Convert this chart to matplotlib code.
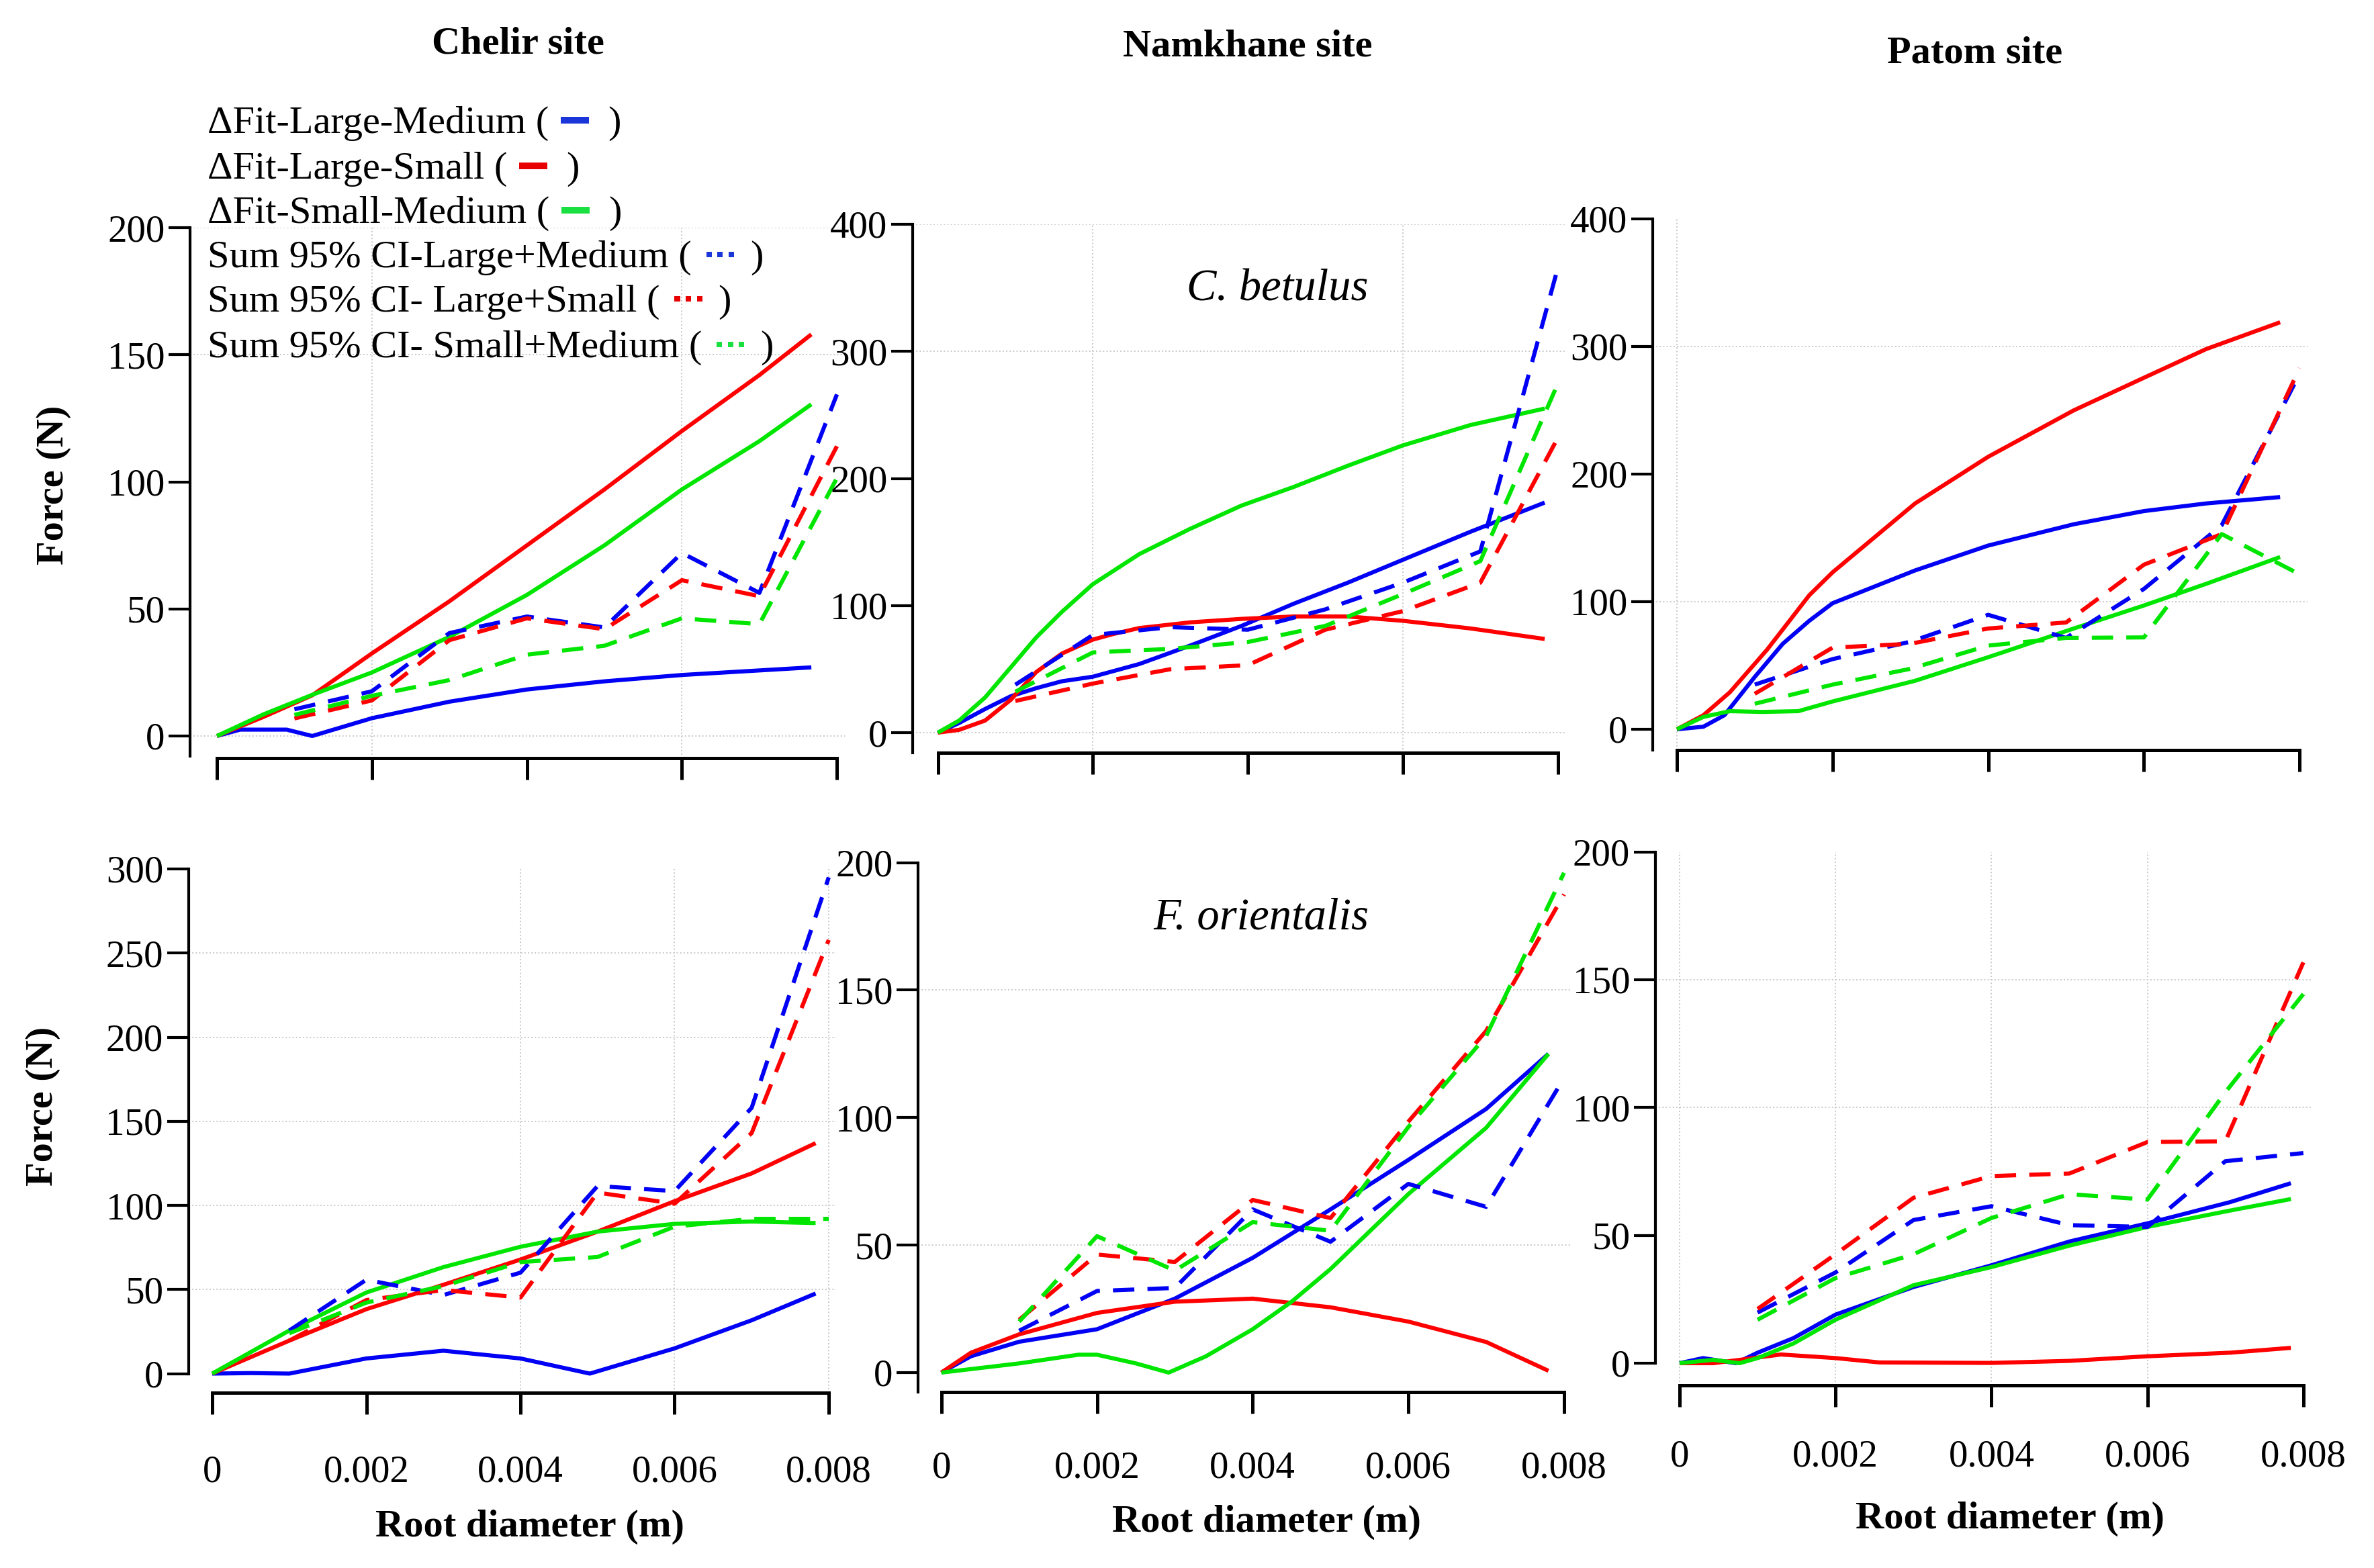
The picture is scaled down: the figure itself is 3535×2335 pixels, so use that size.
import matplotlib
matplotlib.use("Agg")
import matplotlib.pyplot as plt
from matplotlib.lines import Line2D

W, H, DPI = 3535, 2335, 100
plt.rcParams['font.family'] = ['Liberation Serif', 'DejaVu Serif']

# ------------------------------------------------------------------ DATA
ci_x = [0.001, 0.002, 0.003, 0.004, 0.005, 0.006, 0.007, 0.008]

# Panel A: Chelir site, C. betulus
a_red_x = [0, 0.0006, 0.00123, 0.002, 0.003, 0.004, 0.005, 0.006, 0.007, 0.00767]
a_red_y = [0, 7.5, 16, 32.5, 53, 75, 97, 120, 142, 158]
a_green_x = [0, 0.0006, 0.00123, 0.002, 0.003, 0.004, 0.005, 0.006, 0.007, 0.00767]
a_green_y = [0, 8.5, 16.2, 25, 39, 55.5, 75, 97, 116, 130.5]
a_blue_x = [0, 0.0003, 0.0009, 0.00123, 0.002, 0.003, 0.004, 0.005, 0.006, 0.00767]
a_blue_y = [0, 2.5, 2.5, 0, 7, 13.5, 18.3, 21.5, 24, 27]
a_ci_blue = [10.5, 17.6, 40.5, 47, 42.7, 72, 56.3, 134.4]
a_ci_red = [6.9, 14, 37.7, 46.3, 42, 61.3, 55, 114]
a_ci_green = [8.3, 15.8, 22, 32, 35.5, 46.3, 44, 101.5]

# Panel B: Namkhane site, C. betulus
b_green_x = [0, 0.000275, 0.00061, 0.00094, 0.00127, 0.0016, 0.002, 0.0026, 0.00326, 0.00392,
             0.00459, 0.00529, 0.006, 0.00687, 0.00783]
b_green_y = [0, 9.5, 27.7, 51.3, 75, 95, 116.8, 140.5, 160.5, 178.7, 193.3, 210, 226, 242, 255]
b_blue_x = [0, 0.000275, 0.00061, 0.00094, 0.00127, 0.0016, 0.002, 0.0026, 0.00326, 0.00392,
            0.00459, 0.00529, 0.006, 0.00687, 0.00783]
b_blue_y = [0, 7.6, 18.6, 28.6, 35, 40.4, 44, 54, 68.6, 84, 101.4, 118, 136, 158, 181]
b_red_x = [0, 0.000275, 0.00061, 0.00094, 0.00127, 0.0016, 0.002, 0.00227, 0.0026, 0.00326,
           0.00392, 0.00459, 0.00529, 0.006, 0.00687, 0.00783]
b_red_y = [0, 2.2, 9.5, 25.8, 47.7, 62.2, 73.2, 77.7, 82.3, 86.8, 89.5, 91.4, 91.4, 88, 82, 73.7]
b_ci_blue = [37.7, 76.8, 83, 81, 97, 118, 142.6, 365.7]
b_ci_red = [24.9, 38.6, 49.9, 53.1, 81, 95.6, 118, 232]
b_ci_green = [32.2, 63.1, 65.9, 71.3, 84, 109, 135, 274.6]

# Panel C: Patom site, C. betulus
c_red_x = [0, 0.00034, 0.00068, 0.00116, 0.0017, 0.002, 0.00306, 0.004, 0.0051, 0.006, 0.0068, 0.00775]
c_red_y = [0, 11, 29, 62.5, 105, 123, 177, 213.6, 250, 275.5, 298, 319]
c_blue_x = [0, 0.00034, 0.00061, 0.001, 0.00136, 0.0017, 0.002, 0.00306, 0.004, 0.0051, 0.006, 0.0068, 0.00775]
c_blue_y = [0, 2, 11, 41, 67, 85, 98.8, 124.5, 144, 160.7, 171, 177, 182]
c_green_x = [0, 0.00034, 0.00068, 0.0011, 0.00156, 0.002, 0.00306, 0.004, 0.0051, 0.006, 0.0068, 0.00775]
c_green_y = [0, 9.7, 14.2, 13.6, 14.2, 21.8, 38, 56.5, 79, 97, 114, 135]
c_ci_blue = [35, 55, 68.6, 89.7, 71.6, 110, 160, 278.5]
c_ci_red = [27.8, 64, 67, 79, 83.7, 129, 153, 283]
c_ci_green = [20, 35, 47.4, 65.6, 71.6, 72, 153, 121.5]

# Panel D: Chelir site, F. orientalis
d_red_x = [0, 0.001, 0.002, 0.003, 0.004, 0.005, 0.006, 0.007, 0.00783]
d_red_y = [0, 19.6, 38.3, 52.8, 67.8, 84.4, 102.5, 119, 137]
d_green_x = [0, 0.001, 0.002, 0.003, 0.004, 0.005, 0.006, 0.007, 0.00783]
d_green_y = [0, 25.6, 48.2, 63.3, 75.4, 84.4, 89, 90.4, 89.5]
d_blue_x = [0, 0.0005, 0.001, 0.002, 0.003, 0.004, 0.0049, 0.006, 0.007, 0.00783]
d_blue_y = [0, 0.3, 0, 9, 13.6, 9, 0, 15, 31.7, 47.6]
d_ci_blue = [25.6, 55.8, 46.7, 60, 111.5, 108.5, 158, 295]
d_ci_red = [19.6, 43.7, 49.7, 45.2, 107.6, 101, 143, 257.8]
d_ci_green = [24, 42.2, 52, 66.3, 69.3, 87.4, 92, 92]

# Panel E: Namkhane site, F. orientalis
e_red_x = [0, 0.00038, 0.001, 0.002, 0.003, 0.004, 0.005, 0.006, 0.007, 0.0078]
e_red_y = [0, 7.8, 15, 23.4, 27.8, 29, 25.6, 20, 12, 0.7]
e_blue_x = [0, 0.00038, 0.001, 0.002, 0.003, 0.004, 0.005, 0.006, 0.007, 0.0078]
e_blue_y = [0, 6.4, 12.1, 17, 29, 45, 64, 83.4, 103.4, 125]
e_green_x = [0, 0.001, 0.00176, 0.002, 0.0025, 0.00292, 0.0034, 0.004, 0.0045, 0.005, 0.006, 0.007, 0.0078]
e_green_y = [0, 3.6, 7, 7, 3.6, 0, 6.4, 17, 27.8, 40.6, 70, 96, 125]
e_ci_blue = [16.4, 32, 33.2, 64, 51.3, 74, 65, 115.5]
e_ci_red = [20.7, 46.3, 43.4, 67.7, 60.6, 98.4, 134, 187.5]
e_ci_green = [20, 53.5, 40, 59, 55.6, 96.3, 132, 196]

# Panel F: Patom site, F. orientalis
f_red_x = [0, 0.00043, 0.00077, 0.0013, 0.002, 0.00256, 0.004, 0.005, 0.006, 0.00706, 0.00784]
f_red_y = [0, 0, 1.3, 3.4, 2, 0.3, 0.1, 0.9, 2.7, 4.1, 6]
f_blue_x = [0, 0.0003, 0.00072, 0.001, 0.00146, 0.002, 0.003, 0.004, 0.005, 0.006, 0.00706, 0.00784]
f_blue_y = [0, 2, 0, 4.1, 9.8, 19, 29.8, 38.3, 47.6, 54.7, 63, 70.4]
f_green_x = [0, 0.00043, 0.00077, 0.001, 0.00146, 0.002, 0.003, 0.004, 0.005, 0.006, 0.00706, 0.00784]
f_green_y = [0, 1.3, 0, 2, 7.7, 17, 30.5, 37.6, 46, 53.3, 59.7, 64.2]
f_ci_blue = [19.8, 35.5, 56, 61.4, 54, 53.3, 79, 82.2]
f_ci_red = [21.2, 42.6, 64.7, 73.2, 74.2, 86.5, 86.8, 156.8]
f_ci_green = [17, 33.3, 42.6, 56.8, 66.1, 64, 106, 144.4]

x_ticks = [0, 0.002, 0.004, 0.006, 0.008]
x_tick_labels = ["0", "0.002", "0.004", "0.006", "0.008"]
site_titles = ["Chelir site", "Namkhane site", "Patom site"]
species = ["C. betulus", "F. orientalis"]
legend_labels = ["ΔFit-Large-Medium (", "ΔFit-Large-Small (", "ΔFit-Small-Medium (",
                 "Sum 95% CI-Large+Medium (", "Sum 95% CI- Large+Small (", "Sum 95% CI- Small+Medium ("]

# ------------------------------------------------------------------ STYLE
BLUE, RED, GREEN = '#0000f5', '#ff0000', '#00e600'
LBLUE, LRED, LGREEN = '#1a35d8', '#e80000', '#19e040'
LW = 4.4
DASH = (5.2, 3.2)
GRIDC = '#c8c8c8'

fig = plt.figure(figsize=(W / DPI, H / DPI), dpi=DPI)


def panel(spine_x, x0_px, px_per_mm, y0_px, ytop_px, ytop_val, axis_px,
          yticks, spine_bottom, hgrid, vgrid, xlabel_pad):
    sx = px_per_mm / 0.001
    xl = (spine_x - x0_px) / sx
    xr = 0.0081
    right_px = x0_px + xr * sx
    sy = (y0_px - ytop_px) / ytop_val
    yb = -(axis_px - y0_px) / sy
    ax = fig.add_axes([spine_x / W, (H - axis_px) / H,
                       (right_px - spine_x) / W, (axis_px - ytop_px) / H])
    ax.set_xlim(xl, xr)
    ax.set_ylim(yb, ytop_val)
    ax.patch.set_alpha(0)
    for s in ('top', 'right'):
        ax.spines[s].set_visible(False)
    ax.spines['left'].set_linewidth(3.0)
    ax.spines['left'].set_bounds(spine_bottom if spine_bottom is not None else yb, ytop_val)
    ax.spines['bottom'].set_linewidth(3.6)
    ax.spines['bottom'].set_bounds(0, 0.008)
    ax.set_yticks(yticks)
    ax.set_yticklabels([str(v) for v in yticks])
    show = xlabel_pad is not None
    ax.set_xticks(x_ticks)
    ax.set_xticklabels(x_tick_labels if show else [])
    ax.tick_params(axis='y', direction='out', length=23, width=3.0, labelsize=41, pad=4)
    ax.tick_params(axis='x', direction='out', length=23, width=3.6, labelsize=41,
                   pad=xlabel_pad if show else 4, labelbottom=show)
    for v in hgrid:
        ax.axhline(v, color=GRIDC, ls=':', lw=1.4, zorder=0)
    for v in vgrid:
        ax.axvline(v, color=GRIDC, ls=':', lw=1.4, zorder=0)
    return ax


def draw(ax, fits, cis):
    (bx, by), (rx, ry), (gx, gy) = fits
    for xs, ys, col in ((bx, by, BLUE), (rx, ry, RED), (gx, gy, GREEN)):
        ax.plot(xs, ys, color=col, lw=LW, solid_capstyle='butt', solid_joinstyle='round',
                clip_on=False, zorder=3)
    cb, cr, cg = cis
    for vals, col in ((cb, BLUE), (cr, RED), (cg, GREEN)):
        ax.plot(ci_x, vals, color=col, lw=LW, ls=(0, DASH), dash_capstyle='butt',
                clip_on=False, zorder=3)


axA = panel(283, 323, 115.4, 1096, 339, 200, 1129, [0, 50, 100, 150, 200], -8,
            [0, 150, 200], [0.002, 0.006], None)
draw(axA, ((a_blue_x, a_blue_y), (a_red_x, a_red_y), (a_green_x, a_green_y)),
     (a_ci_blue, a_ci_red, a_ci_green))

axB = panel(1359, 1396.5, 115.4, 1091, 334, 400, 1121, [0, 100, 200, 300, 400], None,
            [0, 300, 400], [0.002, 0.006], None)
draw(axB, ((b_blue_x, b_blue_y), (b_red_x, b_red_y), (b_green_x, b_green_y)),
     (b_ci_blue, b_ci_red, b_ci_green))

axC = panel(2461, 2497, 115.9, 1086, 326, 400, 1117, [0, 100, 200, 300, 400], None,
            [100, 300], [0], None)
draw(axC, ((c_blue_x, c_blue_y), (c_red_x, c_red_y), (c_green_x, c_green_y)),
     (c_ci_blue, c_ci_red, c_ci_green))

axD = panel(280.5, 316, 114.75, 2045.5, 1294, 300, 2073.5, [0, 50, 100, 150, 200, 250, 300], 0,
            [50, 100, 150, 200, 250], [0.004, 0.006, 0.008], 44)
draw(axD, ((d_blue_x, d_blue_y), (d_red_x, d_red_y), (d_green_x, d_green_y)),
     (d_ci_blue, d_ci_red, d_ci_green))

axE = panel(1367, 1401.7, 115.9, 2044, 1284.5, 200, 2073, [0, 50, 100, 150, 200], None,
            [50, 150], [], 40)
draw(axE, ((e_blue_x, e_blue_y), (e_red_x, e_red_y), (e_green_x, e_green_y)),
     (e_ci_blue, e_ci_red, e_ci_green))

axF = panel(2464.6, 2501, 116.1, 2030, 1268.6, 200, 2063, [0, 50, 100, 150, 200], 0,
            [100, 150], [0, 0.002, 0.004, 0.006], 35)
draw(axF, ((f_blue_x, f_blue_y), (f_red_x, f_red_y), (f_green_x, f_green_y)),
     (f_ci_blue, f_ci_red, f_ci_green))


def ftext(xp, yp, s, **kw):
    return fig.text(xp / W, 1 - yp / H, s, **kw)


# titles
for (xp, yp), t in zip([(771, 66), (1858, 70), (2941, 79)], site_titles):
    ftext(xp, yp, t, fontsize=42, fontweight='bold', ha='center', va='center')

# species labels
ftext(1902, 448, species[0], fontsize=48, style='italic', ha='center', va='baseline')
ftext(1878, 1383, species[1], fontsize=48, style='italic', ha='center', va='baseline')

# axis labels
ftext(80, 722, "Force (N)", fontsize=42, fontweight='bold', rotation=90, ha='center', va='center')
ftext(64, 1647, "Force (N)", fontsize=42, fontweight='bold', rotation=90, ha='center', va='center')
for xp, yp in [(789, 2274), (1886, 2267), (2993, 2262)]:
    ftext(xp, yp, "Root diameter (m)", fontsize=42, fontweight='bold', ha='center', va='center')

# legend (text with inline coloured markers)
renderer = fig.canvas.get_renderer()
baselines = [198, 265.5, 331.5, 398, 464, 532]
lcols = [LBLUE, LRED, LGREEN, LBLUE, LRED, LGREEN]
for i, (lab, col, yb) in enumerate(zip(legend_labels, lcols, baselines)):
    t = ftext(309, yb, lab, fontsize=42, ha='left', va='baseline')
    bb = t.get_window_extent(renderer)
    xr_px = bb.x1
    ym = H - (yb - 19)
    if i < 3:
        x1 = xr_px + 18
        x2 = x1 + 42
        fig.add_artist(Line2D([x1 / W, x2 / W], [ym / H, ym / H], transform=fig.transFigure,
                              color=col, lw=7.2, solid_capstyle='butt'))
        xc = x2 + 28
    else:
        x1 = xr_px + 22
        for k in range(3):
            a = x1 + k * 16.5
            fig.add_artist(Line2D([a / W, (a + 8) / W], [ym / H, ym / H], transform=fig.transFigure,
                                  color=col, lw=5.8, solid_capstyle='butt'))
        xc = x1 + 2 * 16.5 + 8 + 24
    fig.text(xc / W, 1 - yb / H, ")", fontsize=42, ha='left', va='baseline')

fig.savefig("out.png", dpi=DPI)
